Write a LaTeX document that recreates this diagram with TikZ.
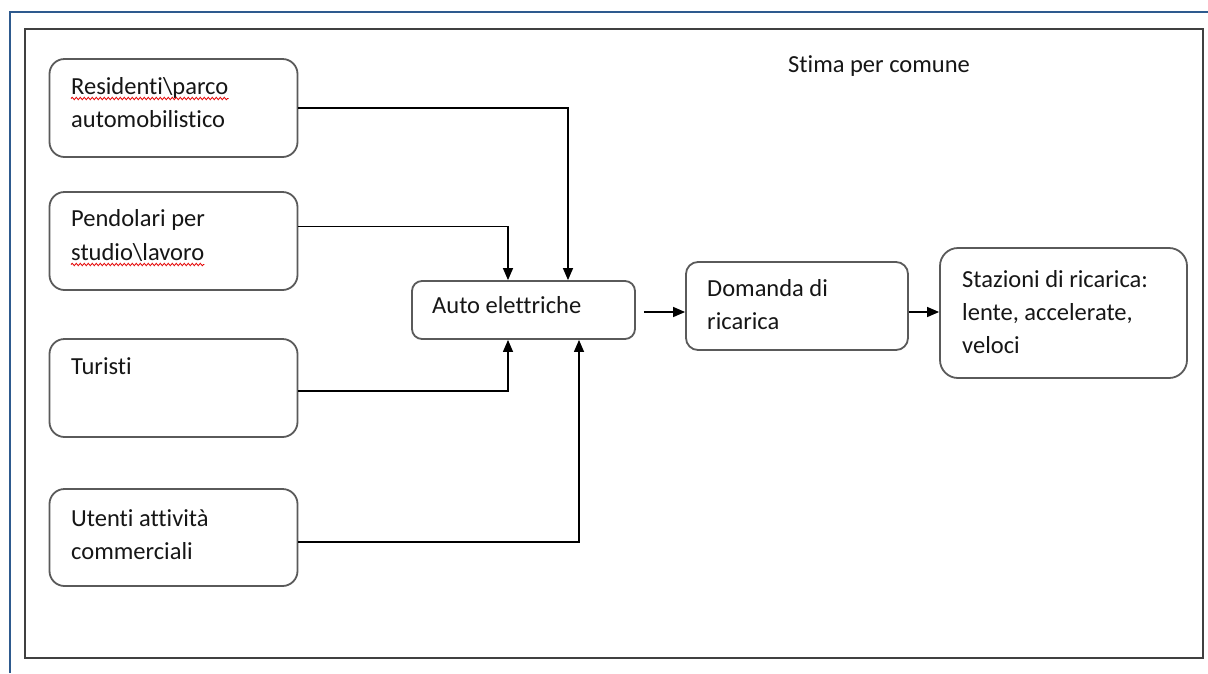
\documentclass[tikz,border=0pt]{standalone}
\usepackage{fontspec}
\setmainfont{Carlito}[Ligatures=NoCommon]
\usetikzlibrary{arrows.meta,decorations.pathmorphing,calc}
\definecolor{frameblue}{HTML}{2E5A8E}
\definecolor{framegray}{HTML}{404040}
\definecolor{boxgray}{HTML}{5A5A5A}
\definecolor{txt}{HTML}{161616}
\begin{document}
\begin{tikzpicture}[x=1pt,y=-1pt,
  box/.style={draw=boxgray,line width=1.8pt,rounded corners=#1,inner sep=0pt,fill=white},
  box/.default=15pt,
  lbl/.style={anchor=base west,inner sep=0pt,text=txt,font=\fontsize{24.5}{33}\selectfont},
  arr/.style={draw=black,line width=1.3pt,-{Triangle[length=12pt,width=10pt]}},
  spell/.style={draw=red!90!black,line width=0.8pt,decorate,decoration={snake,amplitude=1.2pt,segment length=4pt}}]
\useasboundingbox (0,0) rectangle (1208,673);
\fill[white] (0,0) rectangle (1208,673);
% outer frames
\draw[frameblue,line width=2pt] (10,673) -- (10,12) -- (1208,12);
\draw[framegray,line width=1.8pt] (25,29) rectangle (1203,658);
% boxes
\node[box,minimum width=248pt,minimum height=98pt] (res) at (173.5,108) {};
\node[box,minimum width=248pt,minimum height=98pt] (pen) at (173.5,241) {};
\node[box,minimum width=248pt,minimum height=98pt] (tur) at (173.5,388) {};
\node[box,minimum width=248pt,minimum height=97pt] (ute) at (173.5,537.5) {};
\node[box=10pt,minimum width=223pt,minimum height=58pt] (auto) at (523.5,310) {};
\node[box=12pt,minimum width=222pt,minimum height=88pt] (dom) at (797,306) {};
\node[box=18pt,minimum width=247pt,minimum height=130pt] (sta) at (1063.5,313) {};
% texts
\node[lbl] (t0) at (788,72) {Stima per comune};
\node[lbl] (r1) at (71,94) {Residenti\textbackslash parco};
\node[lbl] (r2) at (71,127.5) {automobilistico};
\node[lbl] (p1) at (71,226.5) {Pendolari per};
\node[lbl] (p2) at (71,260) {studio\textbackslash lavoro};
\node[lbl] (tu1) at (71,374) {Turisti};
\node[lbl] (u1) at (71,526) {Utenti attività};
\node[lbl] (u2) at (71,559) {commerciali};
\node[lbl] (a1) at (432,313) {Auto elettriche};
\node[lbl] (d1) at (707,296) {Domanda di};
\node[lbl] (d2) at (707,329.5) {ricarica};
\node[lbl] (s1) at (962,287) {Stazioni di ricarica:};
\node[lbl] (s2) at (962,320) {lente, accelerate,};
\node[lbl] (s3) at (962,353) {veloci};
% spell-check underlines
\draw[spell] ([yshift=-4.5pt]r1.base west) -- ([yshift=-4.5pt]r1.base east);
\draw[spell] ([yshift=-4.5pt]p2.base west) -- ([yshift=-4.5pt]p2.base east);
% connectors
\draw[arr] (res.east) -| ([xshift=44.5pt]auto.north);
\draw[arr] ([yshift=14.5pt]pen.east) -| ([xshift=-15.5pt]auto.north);
\draw[arr] ([yshift=-3pt]tur.east) -| ([xshift=-15.5pt]auto.south);
\draw[arr] ([yshift=-4.5pt]ute.east) -| ([xshift=55.5pt]auto.south);
\draw[arr] ([xshift=8pt,yshift=-2pt]auto.east) -- ([yshift=-2pt]auto.east -| dom.west);
\draw[arr] ([yshift=-6pt]dom.east) -- ([yshift=-6pt]dom.east -| sta.west);
\end{tikzpicture}
\end{document}
